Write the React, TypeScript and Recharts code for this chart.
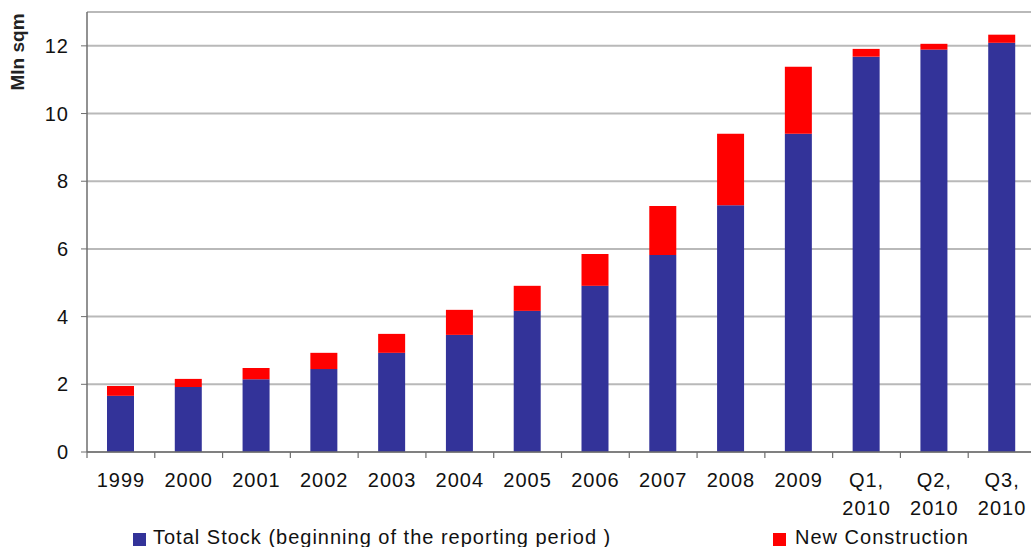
import React from 'react'
import { BarChart, Bar, XAxis, YAxis, CartesianGrid, Legend } from 'recharts'

// Office stock per period, mln sqm
const periods = ['1999', '2000', '2001', '2002', '2003', '2004', '2005', '2006', '2007', '2008', '2009', 'Q1, 2010', 'Q2, 2010', 'Q3, 2010']
const totalStock = [1.66, 1.92, 2.15, 2.45, 2.93, 3.46, 4.17, 4.91, 5.82, 7.29, 9.4, 11.68, 11.89, 12.09]
const newConstruction = [0.29, 0.24, 0.33, 0.48, 0.56, 0.74, 0.74, 0.94, 1.45, 2.11, 1.98, 0.23, 0.17, 0.24]
const yTicks = [0, 2, 4, 6, 8, 10, 12]

const data = periods.map((p, i) => ({
  period: p,
  stock: totalStock[i],
  newc: newConstruction[i],
}))

const CHART_W = 1040
const CHART_H = 547
const MARGIN = { top: 12, right: 4, left: 0, bottom: 0 }
const Y_AXIS_W = 87
const BAND = (CHART_W - MARGIN.left - MARGIN.right - Y_AXIS_W) / periods.length

const FONT = '"Liberation Sans", Arial, sans-serif'
const BLUE = '#333399'
const RED = '#FF0000'
const AXIS = '#6e6e6e'

function PeriodTick(props: any) {
  const { x, y, payload } = props
  const lines = String(payload.value).split(' ')
  const left = x - BAND / 2
  return (
    <g>
      <line x1={left} y1={y} x2={left} y2={y + 6} stroke={AXIS} strokeWidth={1.2} />
      {lines.map((ln, i) => (
        <text
          key={i}
          x={x}
          y={y + 35 + i * 28}
          textAnchor="middle"
          fontSize={20}
          letterSpacing={1}
          fill="#111"
          fontFamily={FONT}
        >
          {ln}
        </text>
      ))}
    </g>
  )
}

function UnitLabel() {
  return (
    <text
      x={24}
      y={52}
      transform="rotate(-90, 24, 52)"
      textAnchor="middle"
      fontSize={19}
      fontWeight="bold"
      fill="#222"
      fontFamily={FONT}
    >
      Mln sqm
    </text>
  )
}

function LegendBox() {
  const item = (left: number, color: string, label: string, textLeft: number) => (
    <>
      <div style={{ position: 'absolute', left, top: 10, width: 13, height: 13, background: color }} />
      <span
        style={{
          position: 'absolute',
          left: textLeft,
          top: 3,
          fontSize: 20,
          lineHeight: '22px',
          letterSpacing: 1,
          color: '#111',
          fontFamily: FONT,
          whiteSpace: 'nowrap',
        }}
      >
        {label}
      </span>
    </>
  )
  return (
    <div style={{ position: 'relative', height: 24, width: CHART_W }}>
      {item(133, BLUE, 'Total Stock (beginning of the reporting period )', 153)}
      {item(773, RED, 'New Construction', 795)}
    </div>
  )
}

export default function App() {
  return (
    <div style={{ position: 'fixed', left: 0, top: 0, width: 1031, height: 547, overflow: 'hidden', background: '#fff' }}>
      <BarChart width={CHART_W} height={CHART_H} data={data} margin={MARGIN} barSize={27}>
        <CartesianGrid vertical={false} stroke="#b9b9b9" strokeWidth={2} />
        <XAxis
          dataKey="period"
          interval={0}
          height={71}
          tickSize={0}
          tickMargin={0}
          tick={<PeriodTick />}
          axisLine={{ stroke: AXIS, strokeWidth: 1.5 }}
        />
        <YAxis
          width={Y_AXIS_W}
          domain={[0, 13]}
          ticks={yTicks}
          interval={0}
          tickSize={6}
          tickMargin={12}
          tick={{ fontSize: 20, fill: '#111', fontFamily: FONT, letterSpacing: 1 }}
          tickLine={{ stroke: AXIS }}
          axisLine={{ stroke: AXIS, strokeWidth: 1.5 }}
          label={<UnitLabel />}
        />
        <Legend verticalAlign="bottom" content={<LegendBox />} />
        <Bar dataKey="stock" stackId="a" fill={BLUE} name="Total Stock (beginning of the reporting period )" isAnimationActive={false} />
        <Bar dataKey="newc" stackId="a" fill={RED} name="New Construction" isAnimationActive={false} />
      </BarChart>
    </div>
  )
}
